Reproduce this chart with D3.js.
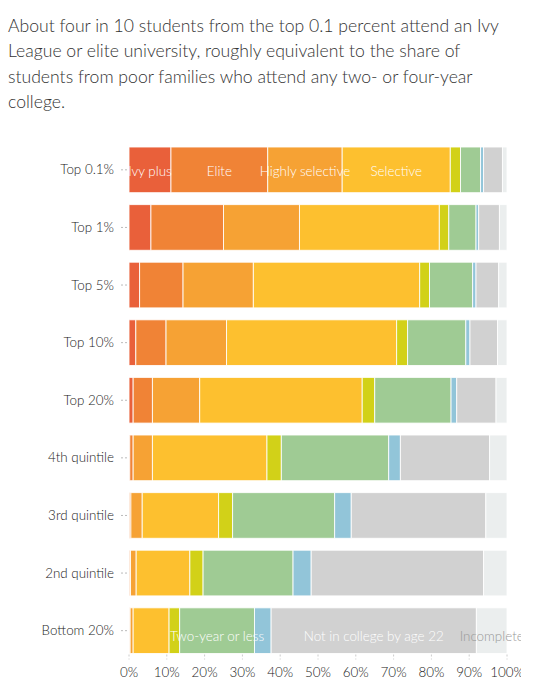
<!DOCTYPE html>
<html>
<head>
<meta charset="utf-8">
<script src="https://cdn.jsdelivr.net/npm/d3@7"></script>
<style>
  body { margin: 0; background: #fff; }
  svg text { font-family: Lato, "Open Sans", sans-serif; }
</style>
</head>
<body>
<div id="chart"></div>
<script>
const titleLines = [
  'About four in 10 students from the top 0.1 percent attend an Ivy',
  'League or elite university, roughly equivalent to the share of',
  'students from poor families who attend any two- or four-year',
  'college.'
];

// income groups, top to bottom
const groups = ['Top 0.1%', 'Top 1%', 'Top 5%', 'Top 10%', 'Top 20%',
  '4th quintile', '3rd quintile', '2nd quintile', 'Bottom 20%'];

// college tiers, left to right
const tiers = ['Ivy plus', 'Elite', 'Highly selective', 'Selective', 'Nonselective',
  'Two-year or less', 'For-profit', 'Not in college by age 22', 'Incomplete'];

const tierColors = ['#e9603a', '#f08336', '#f6a234', '#fdc02f', '#d2d118',
  '#9fcb94', '#92c5d9', '#d1d1d1', '#ebeeee'];

// share of students (percent) per tier, one value per income group
const ivyPlus        = [11.1, 5.8, 2.8, 1.8, 1.1, 0.2, 0.1, 0.1, 0.1];
const elite          = [25.6, 19.2, 11.5, 8.0, 5.1, 0.9, 0.4, 0.3, 0.2];
const highlySel      = [19.7, 20.1, 18.6, 16.0, 12.5, 5.1, 3.0, 1.5, 0.8];
const selective      = [28.6, 37.0, 44.0, 45.0, 43.0, 30.3, 20.2, 14.2, 9.5];
const nonselective   = [2.7, 2.5, 2.6, 2.9, 3.3, 3.8, 3.7, 3.5, 2.8];
const twoYear        = [5.3, 7.2, 11.4, 15.4, 20.2, 28.4, 27.0, 23.8, 19.8];
const forProfit      = [0.8, 0.7, 0.9, 1.1, 1.5, 3.1, 4.4, 4.8, 4.4];
const notInCollege   = [5.0, 5.5, 6.0, 7.3, 10.4, 23.6, 35.6, 45.6, 54.3];
const incomplete     = [1.2, 2.0, 2.2, 2.5, 2.9, 4.6, 5.6, 6.2, 8.1];

const series = [ivyPlus, elite, highlySel, selective, nonselective,
  twoYear, forProfit, notInCollege, incomplete];

const xTicks = [0, 10, 20, 30, 40, 50, 60, 70, 80, 90, 100];

// which tier names are written on which row
const topLabels = ['Ivy plus', 'Elite', 'Highly selective', 'Selective'];
const bottomLabels = ['Two-year or less', 'Not in college by age 22', 'Incomplete'];

const rows = groups.map((g, i) => {
  const r = { group: g };
  tiers.forEach((t, j) => { r[t] = series[j][i]; });
  return r;
});

const width = 521, height = 695;
const plot = { top: 147, bottom: 653.5, left: 129, right: 507 };

const svg = d3.select('#chart').append('svg')
  .attr('width', width)
  .attr('height', height)
  .style('display', 'block');

// title
svg.append('g').selectAll('text')
  .data(titleLines)
  .join('text')
  .attr('x', 8)
  .attr('y', (d, i) => 32 + i * 25.4)
  .attr('font-size', 17.6)
  .attr('font-weight', 300)
  .attr('fill', '#333')
  .text(d => d);

const x = d3.scaleLinear()
  .domain([0, 100])
  .range([plot.left, plot.right]);

const y = d3.scaleBand()
  .domain(groups)
  .range([plot.top, plot.bottom])
  .paddingInner(0.207)
  .paddingOuter(0);

const stacked = d3.stack().keys(tiers)(rows);

// bars
const layer = svg.append('g').selectAll('g')
  .data(stacked)
  .join('g')
  .attr('fill', (d, i) => tierColors[i]);

layer.selectAll('rect')
  .data(d => d.map(v => ({ v, key: d.key })))
  .join('rect')
  .attr('x', d => x(d.v[0]))
  .attr('y', d => y(d.v.data.group))
  .attr('width', d => Math.max(0, x(d.v[1]) - x(d.v[0])))
  .attr('height', y.bandwidth())
  .attr('stroke', '#fff')
  .attr('stroke-opacity', 0.85)
  .attr('stroke-width', 1);

// row labels with dotted leaders
const yAxis = svg.append('g');
groups.forEach(g => {
  const cy = y(g) + y.bandwidth() / 2;
  yAxis.append('line')
    .attr('x1', plot.left - 8).attr('x2', plot.left - 1)
    .attr('y1', cy).attr('y2', cy)
    .attr('stroke', '#bbb')
    .attr('stroke-dasharray', '2,2');
  yAxis.append('text')
    .attr('x', plot.left - 15)
    .attr('y', cy + 4.5)
    .attr('text-anchor', 'end')
    .attr('font-size', 13.4)
    .attr('font-weight', 300)
    .attr('fill', '#222')
    .text(g);
});

// x axis
const xAxis = svg.append('g');
xTicks.forEach(t => {
  xAxis.append('line')
    .attr('x1', x(t)).attr('x2', x(t))
    .attr('y1', plot.bottom + 1).attr('y2', plot.bottom + 6)
    .attr('stroke', '#ccc')
    .attr('stroke-dasharray', '2,2');
  xAxis.append('text')
    .attr('x', x(t))
    .attr('y', plot.bottom + 23)
    .attr('text-anchor', 'middle')
    .attr('font-size', 13.4)
    .attr('font-weight', 300)
    .attr('fill', '#222')
    .text(t + '%');
});

// tier names written inside bars
function midOf(rowIdx, tier) {
  const s = stacked[tiers.indexOf(tier)][rowIdx];
  return x((s[0] + s[1]) / 2);
}

const firstY = y(groups[0]) + y.bandwidth() / 2;
topLabels.forEach(t => {
  svg.append('text')
    .attr('x', midOf(0, t))
    .attr('y', firstY + 6)
    .attr('text-anchor', 'middle')
    .attr('font-size', 13.4)
    .attr('font-weight', 300)
    .attr('fill', '#fff')
    .text(t);
});

const lastIdx = groups.length - 1;
const lastY = y(groups[lastIdx]) + y.bandwidth() / 2;
bottomLabels.forEach(t => {
  svg.append('text')
    .attr('x', midOf(lastIdx, t))
    .attr('y', lastY + 10.5)
    .attr('text-anchor', 'middle')
    .attr('font-size', 13.4)
    .attr('font-weight', 300)
    .attr('fill', t === 'Incomplete' ? '#999' : '#fff')
    .text(t);
});
</script>
</body>
</html>
